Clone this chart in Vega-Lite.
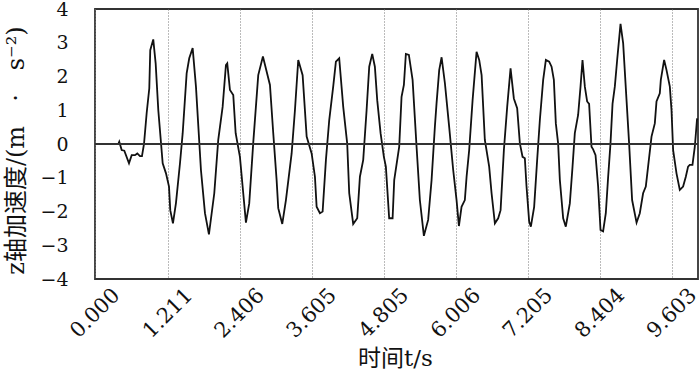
{
  "$schema": "https://vega.github.io/schema/vega-lite/v6.json",
  "width": 603,
  "height": 270,
  "autosize": {"type": "none"},
  "padding": {"left": 95, "top": 9, "right": 2, "bottom": 94},
  "background": "white",
  "config": {
    "view": {"stroke": "#333333", "strokeWidth": 1.8},
    "axis": {"labelColor": "#111111", "titleColor": "#111111", "titleFontWeight": "normal"}
  },
  "data": {"values": [
    {"t": 0, "a": 0}, {"t": 0.388, "a": 0}, {"t": 0.404, "a": 0.07}, {"t": 0.444, "a": -0.18}, {"t": 0.488, "a": -0.2},
    {"t": 0.566, "a": -0.57}, {"t": 0.611, "a": -0.33}, {"t": 0.666, "a": -0.33}, {"t": 0.704, "a": -0.28}, {"t": 0.749, "a": -0.36},
    {"t": 0.782, "a": -0.36}, {"t": 0.816, "a": 0}, {"t": 0.86, "a": 0.91}, {"t": 0.904, "a": 1.65}, {"t": 0.92, "a": 2.78},
    {"t": 0.97, "a": 3.1}, {"t": 1.01, "a": 2.39}, {"t": 1.054, "a": 1.0}, {"t": 1.127, "a": -0.57}, {"t": 1.182, "a": -0.87},
    {"t": 1.232, "a": -1.26}, {"t": 1.253, "a": -1.96}, {"t": 1.298, "a": -2.35}, {"t": 1.348, "a": -1.75}, {"t": 1.415, "a": -0.57},
    {"t": 1.46, "a": 0.32}, {"t": 1.526, "a": 2.09}, {"t": 1.569, "a": 2.54}, {"t": 1.626, "a": 2.84}, {"t": 1.681, "a": 1.7},
    {"t": 1.764, "a": -0.77}, {"t": 1.831, "a": -2.05}, {"t": 1.897, "a": -2.68}, {"t": 1.986, "a": -1.46}, {"t": 2.052, "a": 0.12},
    {"t": 2.125, "a": 1.1}, {"t": 2.18, "a": 2.34}, {"t": 2.202, "a": 2.39}, {"t": 2.247, "a": 1.6}, {"t": 2.302, "a": 1.45},
    {"t": 2.342, "a": 0.32}, {"t": 2.413, "a": -0.38}, {"t": 2.458, "a": -1.26}, {"t": 2.513, "a": -2.33}, {"t": 2.568, "a": -1.76},
    {"t": 2.635, "a": 0.04}, {"t": 2.718, "a": 2.04}, {"t": 2.796, "a": 2.59}, {"t": 2.913, "a": 1.75}, {"t": 2.968, "a": 0.32},
    {"t": 3.024, "a": -1.07}, {"t": 3.051, "a": -1.9}, {"t": 3.118, "a": -2.37}, {"t": 3.179, "a": -1.66}, {"t": 3.274, "a": -0.28},
    {"t": 3.329, "a": 1.0}, {"t": 3.384, "a": 2.49}, {"t": 3.457, "a": 2.04}, {"t": 3.524, "a": 0.22}, {"t": 3.607, "a": -0.28},
    {"t": 3.662, "a": -0.97}, {"t": 3.69, "a": -1.86}, {"t": 3.745, "a": -2.05}, {"t": 3.79, "a": -2.0}, {"t": 3.845, "a": -0.47},
    {"t": 3.9, "a": 0.71}, {"t": 3.966, "a": 1.7}, {"t": 4.011, "a": 2.44}, {"t": 4.066, "a": 2.54}, {"t": 4.133, "a": 1.1},
    {"t": 4.199, "a": 0.02}, {"t": 4.233, "a": -1.46}, {"t": 4.299, "a": -2.37}, {"t": 4.366, "a": -2.2}, {"t": 4.411, "a": -0.97},
    {"t": 4.466, "a": -0.47}, {"t": 4.522, "a": 1.0}, {"t": 4.566, "a": 2.29}, {"t": 4.616, "a": 2.67}, {"t": 4.66, "a": 2.29},
    {"t": 4.699, "a": 1.3}, {"t": 4.755, "a": 0.32}, {"t": 4.81, "a": -0.38}, {"t": 4.843, "a": -0.67}, {"t": 4.898, "a": -2.2},
    {"t": 4.955, "a": -2.2}, {"t": 4.982, "a": -1.07}, {"t": 5.065, "a": -0.08}, {"t": 5.104, "a": 1.4}, {"t": 5.143, "a": 1.75},
    {"t": 5.176, "a": 2.67}, {"t": 5.226, "a": 2.64}, {"t": 5.288, "a": 1.9}, {"t": 5.354, "a": -0.08}, {"t": 5.409, "a": -1.66},
    {"t": 5.476, "a": -2.72}, {"t": 5.547, "a": -2.25}, {"t": 5.604, "a": -1.07}, {"t": 5.659, "a": 0.51}, {"t": 5.687, "a": 1.21},
    {"t": 5.731, "a": 2.19}, {"t": 5.771, "a": 2.57}, {"t": 5.826, "a": 1.8}, {"t": 5.897, "a": 0.51}, {"t": 5.964, "a": -0.77},
    {"t": 6.02, "a": -1.66}, {"t": 6.059, "a": -2.43}, {"t": 6.103, "a": -1.86}, {"t": 6.158, "a": -1.66}, {"t": 6.187, "a": -0.97},
    {"t": 6.23, "a": -0.18}, {"t": 6.287, "a": 1.3}, {"t": 6.353, "a": 2.73}, {"t": 6.397, "a": 2.49}, {"t": 6.437, "a": 2.04},
    {"t": 6.491, "a": 0.12}, {"t": 6.563, "a": -0.67}, {"t": 6.603, "a": -1.46}, {"t": 6.658, "a": -2.35}, {"t": 6.713, "a": -2.2},
    {"t": 6.753, "a": -1.96}, {"t": 6.808, "a": -0.18}, {"t": 6.863, "a": 1.1}, {"t": 6.919, "a": 2.24}, {"t": 6.974, "a": 1.35},
    {"t": 7.029, "a": 1.06}, {"t": 7.074, "a": 0.02}, {"t": 7.119, "a": -0.38}, {"t": 7.157, "a": -0.42}, {"t": 7.185, "a": -1.26},
    {"t": 7.229, "a": -2.3}, {"t": 7.257, "a": -2.45}, {"t": 7.312, "a": -1.86}, {"t": 7.362, "a": -0.47}, {"t": 7.407, "a": 0.71},
    {"t": 7.462, "a": 1.9}, {"t": 7.507, "a": 2.49}, {"t": 7.562, "a": 2.44}, {"t": 7.602, "a": 2.29}, {"t": 7.64, "a": 1.9},
    {"t": 7.673, "a": 0.61}, {"t": 7.711, "a": 0.02}, {"t": 7.74, "a": -1.07}, {"t": 7.795, "a": -2.2}, {"t": 7.839, "a": -2.45},
    {"t": 7.906, "a": -1.76}, {"t": 7.951, "a": -0.67}, {"t": 7.989, "a": 0.32}, {"t": 8.044, "a": 0.86}, {"t": 8.084, "a": 1.7},
    {"t": 8.117, "a": 2.49}, {"t": 8.156, "a": 1.7}, {"t": 8.194, "a": 1.26}, {"t": 8.227, "a": 1.19}, {"t": 8.267, "a": -0.08},
    {"t": 8.294, "a": -0.16}, {"t": 8.334, "a": -0.33}, {"t": 8.377, "a": -1.26}, {"t": 8.417, "a": -2.55}, {"t": 8.46, "a": -2.59},
    {"t": 8.505, "a": -2.05}, {"t": 8.544, "a": -0.97}, {"t": 8.583, "a": 0.02}, {"t": 8.617, "a": 1.19}, {"t": 8.655, "a": 1.7},
    {"t": 8.694, "a": 2.49}, {"t": 8.75, "a": 3.56}, {"t": 8.794, "a": 2.98}, {"t": 8.85, "a": 1.3}, {"t": 8.893, "a": 0.02},
    {"t": 8.943, "a": -1.66}, {"t": 9.017, "a": -2.33}, {"t": 9.071, "a": -2.05}, {"t": 9.126, "a": -1.46}, {"t": 9.171, "a": -1.26},
    {"t": 9.209, "a": -0.67}, {"t": 9.266, "a": 0.22}, {"t": 9.321, "a": 0.61}, {"t": 9.349, "a": 1.26}, {"t": 9.404, "a": 1.5},
    {"t": 9.421, "a": 1.9}, {"t": 9.476, "a": 2.49}, {"t": 9.516, "a": 2.19}, {"t": 9.571, "a": 1.7}, {"t": 9.599, "a": 1.0},
    {"t": 9.626, "a": -0.18}, {"t": 9.682, "a": -0.87}, {"t": 9.737, "a": -1.36}, {"t": 9.792, "a": -1.26}, {"t": 9.837, "a": -0.97},
    {"t": 9.875, "a": -0.67}, {"t": 9.903, "a": -0.62}, {"t": 9.948, "a": -0.62}, {"t": 9.987, "a": -0.08}, {"t": 10.025, "a": 0.76}
  ]},
  "layer": [
    {
      "mark": {"type": "line", "color": "#111111", "strokeWidth": 1.8, "clip": true},
      "encoding": {
        "x": {
          "field": "t", "type": "quantitative",
          "scale": {"domain": [0, 10.04], "nice": false, "zero": false},
          "axis": {
            "values": [0, 1.211, 2.406, 3.605, 4.805, 6.006, 7.205, 8.404, 9.603],
            "format": ".3f",
            "labelFont": "DejaVu Serif",
            "labelAngle": -45, "labelAlign": "center", "labelBaseline": "middle",
            "labelPadding": 34, "labelFontSize": 21, "labelFlush": false, "labelOverlap": false,
            "ticks": false, "domain": false,
            "grid": true, "gridDash": [1, 2], "gridColor": "#777777", "gridWidth": 1,
            "title": "时间t/s", "titleFont": "DejaVu Serif, Noto Sans CJK SC",
            "titleFontSize": 23, "titleX": 300, "titleY": 79,
            "titleBaseline": "middle", "titleAlign": "center"
          }
        },
        "y": {
          "field": "a", "type": "quantitative",
          "scale": {"domain": [-4, 4], "nice": false},
          "axis": {
            "values": [-4, -3, -2, -1, 0, 1, 2, 3, 4],
            "tickCount": 9,
            "labelFont": "DejaVu Serif",
            "labelFontSize": 19, "labelPadding": 27, "labelFlush": false, "labelOverlap": false,
            "ticks": false, "domain": false, "grid": false,
            "title": "z轴加速度/(m\u2003·\u2003s⁻²)", "titleFont": "DejaVu Serif, Noto Sans CJK SC",
            "titleFontSize": 24, "titleAngle": -90,
            "titleX": -79, "titleY": 141, "titleBaseline": "middle", "titleAlign": "center"
          }
        }
      }
    },
    {
      "mark": {"type": "rule", "color": "#333333", "strokeWidth": 1.6},
      "encoding": {"y": {"datum": 0, "type": "quantitative"}}
    }
  ]
}
